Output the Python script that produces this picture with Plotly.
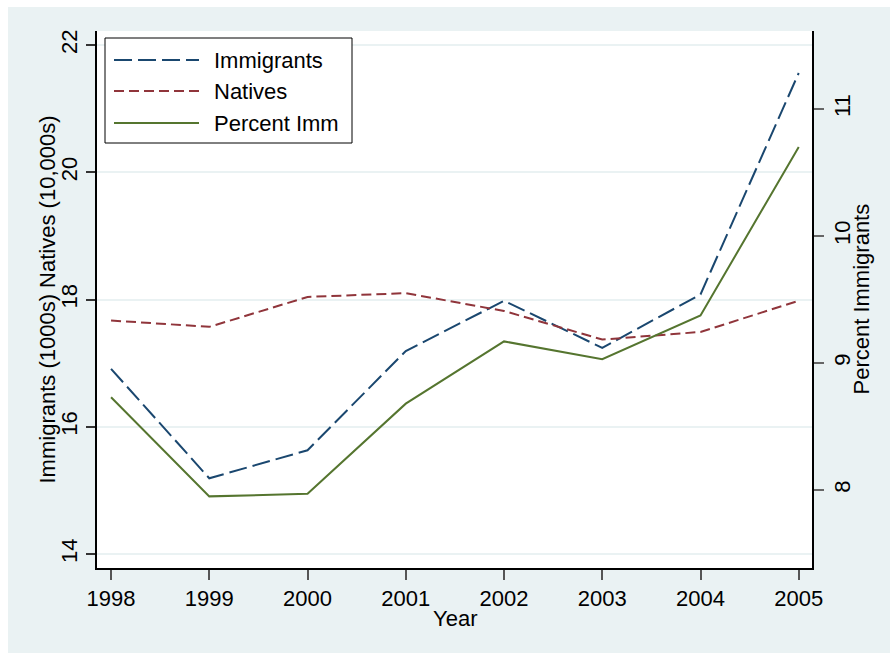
import plotly.graph_objects as go

# Series values
years = [1998, 1999, 2000, 2001, 2002, 2003, 2004, 2005]
immigrants = [16.91, 15.19, 15.63, 17.19, 17.98, 17.24, 18.08, 21.56]   # 1000s
natives = [17.67, 17.57, 18.04, 18.10, 17.82, 17.37, 17.49, 17.98]      # 10,000s
percent_imm = [8.73, 7.95, 7.97, 8.68, 9.17, 9.03, 9.375, 10.70]         # percent

left_ticks = [14, 16, 18, 20, 22]
right_ticks = [8, 9, 10, 11]

series_names = ["Immigrants", "Natives", "Percent Imm"]
colors = ["#1a476f", "#90353b", "#55752f"]
dashes = ["18px,6px", "10px,5px", "solid"]

W, H = 890, 653
L, R, T, B = 97, 78, 31, 85
PW, PH = W - L - R, H - T - B
FONT = "Liberation Sans, Arial, sans-serif"
BG = "#EAF2F3"


def px_x(px):
    return (px - L) / PW


def px_y(py):
    return (H - B - py) / PH


fig = go.Figure()
fig.add_trace(go.Scatter(x=years, y=immigrants, mode="lines", name=series_names[0],
                         line=dict(color=colors[0], width=2, dash=dashes[0]), yaxis="y"))
fig.add_trace(go.Scatter(x=years, y=natives, mode="lines", name=series_names[1],
                         line=dict(color=colors[1], width=2, dash=dashes[1]), yaxis="y"))
fig.add_trace(go.Scatter(x=years, y=percent_imm, mode="lines", name=series_names[2],
                         line=dict(color=colors[2], width=2, dash=dashes[2]), yaxis="y2"))

shapes = [
    # white outer strips on left and top
    dict(type="rect", xref="paper", yref="paper", x0=px_x(0), x1=px_x(8), y0=px_y(H), y1=px_y(0),
         fillcolor="white", line=dict(width=0), layer="below"),
    dict(type="rect", xref="paper", yref="paper", x0=px_x(0), x1=px_x(W), y0=px_y(7), y1=px_y(0),
         fillcolor="white", line=dict(width=0), layer="below"),
    # legend box
    dict(type="rect", xref="paper", yref="paper", x0=px_x(105), x1=px_x(352), y0=px_y(143), y1=px_y(38),
         fillcolor="white", line=dict(color="black", width=1), layer="above"),
]
annotations = []
legend_rows = [60, 91, 123]
for name, col, dsh, ry in zip(series_names, colors, dashes, legend_rows):
    shapes.append(dict(type="line", xref="paper", yref="paper", x0=px_x(114), x1=px_x(199),
                       y0=px_y(ry), y1=px_y(ry), line=dict(color=col, width=2, dash=dsh), layer="above"))
    annotations.append(dict(text=name, xref="paper", yref="paper", x=px_x(212), y=px_y(ry),
                            xanchor="left", yanchor="middle", showarrow=False,
                            font=dict(size=22, color="black", family=FONT)))

# axis titles
annotations.append(dict(text="Immigrants (1000s) Natives (10,000s)", xref="paper", yref="paper",
                        x=px_x(47), y=0.5, textangle=-90, showarrow=False,
                        xanchor="center", yanchor="middle", font=dict(size=22, color="black", family=FONT)))
annotations.append(dict(text="Percent Immigrants", xref="paper", yref="paper",
                        x=px_x(861), y=0.5, textangle=-90, showarrow=False,
                        xanchor="center", yanchor="middle", font=dict(size=22, color="black", family=FONT)))
annotations.append(dict(text="Year", xref="paper", yref="paper",
                        x=0.5, y=px_y(618), showarrow=False,
                        xanchor="center", yanchor="middle", font=dict(size=22, color="black", family=FONT)))

fig.update_layout(
    width=W, height=H,
    margin=dict(l=L, r=R, t=T, b=B),
    paper_bgcolor=BG, plot_bgcolor="white",
    showlegend=False,
    font=dict(family=FONT, size=22, color="black"),
    xaxis=dict(range=[1997.857, 2005.135], tickvals=years, ticks="outside", ticklen=10,
               tickcolor="#555555", tickwidth=1.5, showline=True, linecolor="black", linewidth=1.5,
               showgrid=False, zeroline=False, tickfont=dict(size=22, color="black")),
    yaxis=dict(range=[13.78, 22.22], tickvals=left_ticks, ticks="outside", ticklen=9,
               tickcolor="#333333", tickwidth=1.5, tickangle=-90, showline=True, linecolor="black",
               linewidth=1.5, showgrid=True, gridcolor=BG, gridwidth=1.5, zeroline=False,
               tickfont=dict(size=22, color="black")),
    yaxis2=dict(range=[7.386, 11.614], tickvals=right_ticks, overlaying="y", side="right",
                ticks="outside", ticklen=10, tickcolor="#666666", tickwidth=1.5, tickangle=-90,
                showline=True, linecolor="black", linewidth=1.5, showgrid=False, zeroline=False,
                tickfont=dict(size=22, color="black")),
    shapes=shapes,
    annotations=annotations,
)

fig.write_html("out.html")
